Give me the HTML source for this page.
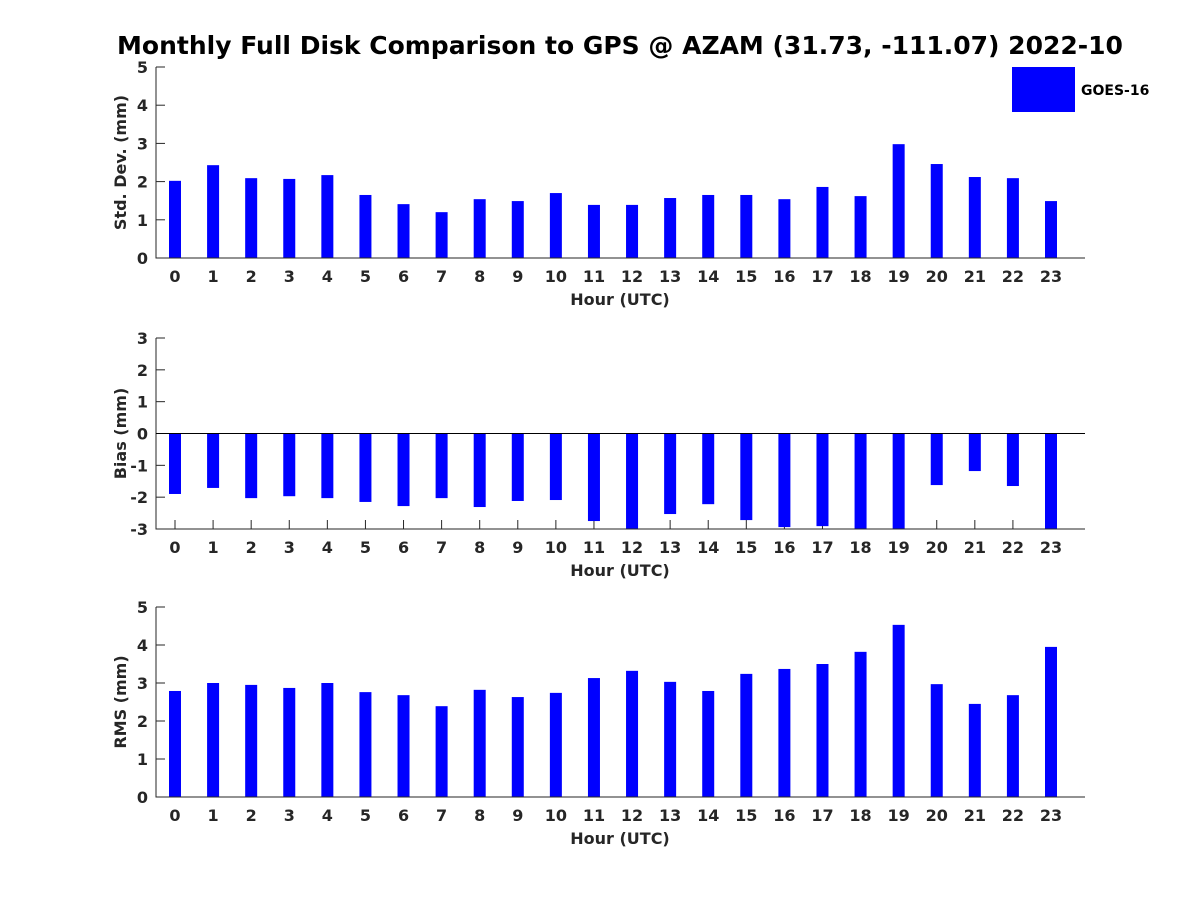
<!DOCTYPE html>
<html><head><meta charset="utf-8"><style>
body{margin:0;background:#fff;}
svg text{font-family:"DejaVu Sans","Liberation Sans",sans-serif;font-weight:bold;fill:#262626;}
</style></head><body>
<svg id="chart" width="1200" height="900" xmlns="http://www.w3.org/2000/svg">
<text x="620" y="54" font-size="25" text-anchor="middle" style="fill:#000">Monthly Full Disk Comparison to GPS @ AZAM (31.73, -111.07) 2022-10</text>
<g id="plots"></g>
<rect x="1012" y="67" width="63" height="45" fill="#0000ff"/>
<text x="1081" y="95" font-size="14" style="fill:#000">GOES-16</text>
</svg>
<script>
const hours=[0,1,2,3,4,5,6,7,8,9,10,11,12,13,14,15,16,17,18,19,20,21,22,23];
const stdValues=[2.02,2.43,2.09,2.07,2.17,1.65,1.41,1.2,1.54,1.49,1.7,1.39,1.39,1.57,1.65,1.65,1.54,1.86,1.62,2.98,2.46,2.12,2.09,1.49];
const biasValues=[-1.9,-1.71,-2.03,-1.97,-2.03,-2.15,-2.28,-2.03,-2.31,-2.12,-2.09,-2.75,-3.3,-2.53,-2.22,-2.72,-2.94,-2.91,-3.3,-3.3,-1.62,-1.18,-1.65,-3.3];
const rmsValues=[2.79,3.0,2.95,2.87,3.0,2.76,2.68,2.39,2.82,2.63,2.74,3.13,3.32,3.03,2.79,3.24,3.37,3.5,3.82,4.53,2.97,2.45,2.68,3.95];
const stdTicks=[0,1,2,3,4,5];
const biasTicks=[-3,-2,-1,0,1,2,3];
const rmsTicks=[0,1,2,3,4,5];
const NS="http://www.w3.org/2000/svg";
const g=document.getElementById('plots');
function mk(t,a){const e=document.createElementNS(NS,t);for(const k in a)e.setAttribute(k,a[k]);g.appendChild(e);return e;}
const X0=156,X1=1085;
function xs(h){return 175+h*(1051-175)/23;}
function panel(name,top,bottom,ymin,ymax,ticks,vals,ylabel,zeroLine){
  const ys=v=>bottom-(v-ymin)/(ymax-ymin)*(bottom-top);
  const cid='clip-'+name;
  const cp=document.createElementNS(NS,'clipPath');cp.setAttribute('id',cid);
  const r=document.createElementNS(NS,'rect');r.setAttribute('x',X0);r.setAttribute('y',top);r.setAttribute('width',X1-X0);r.setAttribute('height',bottom-top);cp.appendChild(r);g.appendChild(cp);
  hours.forEach((h,i)=>{
    const t=mk('line',{x1:xs(h),x2:xs(h),y1:bottom,y2:bottom-9,stroke:'#262626'});
    
    
    const v=vals[i];const y0=ys(0),y1=ys(v);
    const b=mk('rect',{x:xs(h)-6,y:Math.min(y0,y1),width:12,height:Math.abs(y1-y0),fill:'#0000ff','clip-path':'url(#'+cid+')'});
    
    
    const l=mk('text',{x:xs(h),y:bottom+24,'font-size':16,'text-anchor':'middle'});l.textContent=h;
    
    
  });
  ticks.forEach(v=>{
    const t=mk('line',{x1:X0,x2:X0+9,y1:ys(v),y2:ys(v),stroke:'#262626'});
    
    
    const l=mk('text',{x:X0-8,y:ys(v)+6,'font-size':16,'text-anchor':'end'});l.textContent=v;
    
    
  });
  const ax=mk('path',{d:`M${X0},${top}V${bottom}H${X1}`,stroke:'#262626',fill:'none'});
  
  
  if(zeroLine){const z=mk('line',{x1:X0,x2:X1,y1:ys(0),y2:ys(0),stroke:'#000'});
    
    }
  const xl=mk('text',{x:620,y:bottom+47,'font-size':16,'text-anchor':'middle'});xl.textContent='Hour (UTC)';
  
  
  const yc=(top+bottom)/2;
  const yl=mk('text',{x:126,y:yc,'font-size':16,'text-anchor':'middle',transform:`rotate(-90 126 ${yc})`});yl.textContent=ylabel;
  
  
}
panel('std',67,258,0,5,stdTicks,stdValues,'Std. Dev. (mm)',false);
panel('bias',338,529,-3,3,biasTicks,biasValues,'Bias (mm)',true);
panel('rms',607,797,0,5,rmsTicks,rmsValues,'RMS (mm)',false);
</script>
</body></html>
